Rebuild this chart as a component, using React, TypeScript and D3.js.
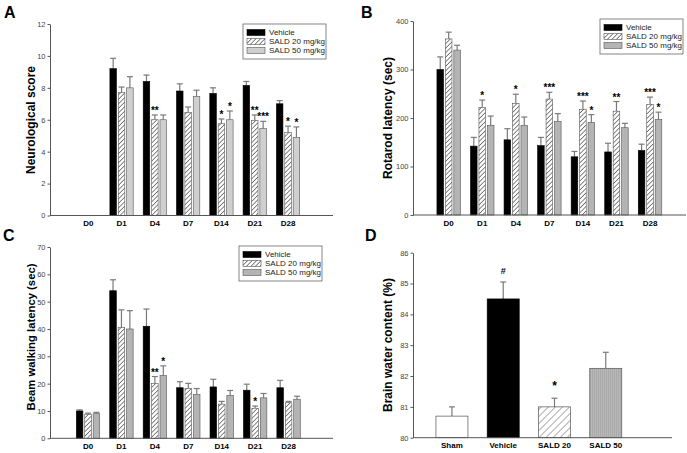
import React, { useEffect, useRef } from 'react';
import { select, scaleBand, scaleLinear, axisLeft, range, format } from 'd3';

// shared categories
const days = ['D0', 'D1', 'D4', 'D7', 'D14', 'D21', 'D28'];
const groups = ['Vehicle', 'SALD 20 mg/kg', 'SALD 50 mg/kg'];

// A - neurological score (mean, sem)
const neuroVehicle = [null, 9.2, 8.4, 7.8, 7.65, 8.15, 7.0];
const neuroVehicleErr = [0, 0.65, 0.4, 0.45, 0.35, 0.25, 0.2];
const neuroSald20 = [null, 7.7, 6.0, 6.45, 5.75, 5.95, 5.2];
const neuroSald20Err = [0, 0.35, 0.3, 0.35, 0.3, 0.35, 0.4];
const neuroSald50 = [null, 8.0, 6.0, 7.45, 6.0, 5.45, 4.9];
const neuroSald50Err = [0, 0.7, 0.3, 0.4, 0.55, 0.45, 0.65];
const neuroSig = [
  ['', '', '', '', '', '', ''],
  ['', '', '**', '', '*', '**', '*'],
  ['', '', '', '', '*', '***', '*'],
];

// B - rotarod latency
const rotaVehicle = [300, 142, 155, 143, 120, 130, 133];
const rotaVehicleErr = [26, 18, 23, 17, 11, 18, 13];
const rotaSald20 = [363, 222, 230, 239, 218, 214, 228];
const rotaSald20Err = [14, 15, 19, 14, 17, 20, 15];
const rotaSald50 = [340, 185, 185, 193, 191, 180, 197];
const rotaSald50Err = [10, 19, 17, 16, 16, 9, 15];
const rotaSig = [
  ['', '', '', '', '', '', ''],
  ['', '*', '*', '***', '***', '**', '***'],
  ['', '', '', '', '*', '', '*'],
];

// C - beam walking latency
const beamVehicle = [10, 54, 41, 18.5, 18.8, 17.6, 18.5];
const beamVehicleErr = [0.4, 4, 6.3, 2.2, 2.8, 2.2, 2.7];
const beamSald20 = [8.8, 40.5, 20, 18.3, 12.5, 11, 13];
const beamSald20Err = [0.4, 6.5, 2.6, 1.8, 1.0, 0.8, 0.5];
const beamSald50 = [9, 40, 23, 16, 15.7, 14.8, 14.3];
const beamSald50Err = [0.5, 6.7, 3.5, 2.2, 1.8, 1.6, 1.1];
const beamSig = [
  ['', '', '', '', '', '', ''],
  ['', '', '**', '', '', '*', ''],
  ['', '', '*', '', '', '', ''],
];

// D - brain water content
const waterGroups = ['Sham', 'Vehicle', 'SALD 20', 'SALD 50'];
const waterValues = [80.7, 84.5, 81.0, 82.25];
const waterErr = [0.3, 0.55, 0.28, 0.52];
const waterSig = ['', '#', '*', ''];

const FONT = 'Arial, "Liberation Sans", sans-serif';
const fills = ['#000', 'url(#hatch)', '#cfcfcf'];
const fillsB = ['#000', 'url(#hatch)', '#b4b4b4'];

const panels = [
  {
    letter: 'A', title: 'Neurological score', titleSize: 12, lx: 4, ly: 18, titleX: 31, titleY: 120,
    x0: 50, x1: 333, bandL: 71.6, bandR: 304.7, yBot: 215.5, yTop: 24, dom: [0, 12], ticks: range(0, 13, 2),
    series: [[neuroVehicle, neuroVehicleErr], [neuroSald20, neuroSald20Err], [neuroSald50, neuroSald50Err]],
    sig: neuroSig, fills, legend: [243, 24], labY: 226,
  },
  {
    letter: 'B', title: 'Rotarod latency (sec)', titleSize: 12, lx: 361, ly: 18, titleX: 388, titleY: 118,
    x0: 413, x1: 686, bandL: 431.9, bandR: 666.8, yBot: 215, yTop: 21, dom: [0, 400], ticks: range(0, 401, 100),
    series: [[rotaVehicle, rotaVehicleErr], [rotaSald20, rotaSald20Err], [rotaSald50, rotaSald50Err]],
    sig: rotaSig, fills: fillsB, legend: [600, 19], labY: 226,
  },
  {
    letter: 'C', title: 'Beam walking latency (sec)', titleSize: 11.3, lx: 3, ly: 241, titleX: 31, titleY: 337,
    x0: 50, x1: 333, bandL: 71.3, bandR: 305.3, yBot: 438.3, yTop: 247, dom: [0, 70], ticks: range(0, 71, 10),
    series: [[beamVehicle, beamVehicleErr], [beamSald20, beamSald20Err], [beamSald50, beamSald50Err]],
    sig: beamSig, fills: fillsB, legend: [239, 246], labY: 449,
  },
];

function App() {
  const svgRef = useRef<SVGSVGElement>(null);

  useEffect(() => {
    const svg = select(svgRef.current);
    svg.selectAll('*').remove();

    const defs = svg.append('defs');
    const hatch = defs.append('pattern').attr('id', 'hatch').attr('patternUnits', 'userSpaceOnUse')
      .attr('width', 3.2).attr('height', 3.2).attr('patternTransform', 'rotate(45)');
    hatch.append('rect').attr('width', 3.2).attr('height', 3.2).attr('fill', '#fff');
    hatch.append('line').attr('x1', 0).attr('y1', 0).attr('x2', 0).attr('y2', 3.2)
      .attr('stroke', '#222').attr('stroke-width', 1.1);
    const hatchD = defs.append('pattern').attr('id', 'hatchD').attr('patternUnits', 'userSpaceOnUse')
      .attr('width', 5).attr('height', 5).attr('patternTransform', 'rotate(45)');
    hatchD.append('rect').attr('width', 5).attr('height', 5).attr('fill', '#fff');
    hatchD.append('line').attr('x1', 0).attr('y1', 0).attr('x2', 0).attr('y2', 5)
      .attr('stroke', '#444').attr('stroke-width', 0.9);
    const vert = defs.append('pattern').attr('id', 'vert').attr('patternUnits', 'userSpaceOnUse')
      .attr('width', 2).attr('height', 4);
    vert.append('rect').attr('width', 2).attr('height', 4).attr('fill', '#b8b8b8');
    vert.append('line').attr('x1', 0.5).attr('y1', 0).attr('x2', 0.5).attr('y2', 4)
      .attr('stroke', '#a4a4a4').attr('stroke-width', 0.7);

    const drawAxisY = (g, y, x0, ticks) => {
      const ax = g.append('g').attr('transform', `translate(${x0},0)`)
        .call(axisLeft(y).tickValues(ticks).tickFormat(format('d')).tickSize(2.5).tickSizeOuter(0).tickPadding(2));
      ax.select('.domain').attr('stroke', '#555');
      ax.selectAll('line').attr('stroke', '#555');
      ax.selectAll('text').attr('font-size', 7.5).attr('fill', '#444').attr('font-family', FONT);
    };

    const errBar = (g, cx, yTop, yVal) => {
      g.append('line').attr('x1', cx).attr('x2', cx).attr('y1', yVal).attr('y2', yTop)
        .attr('stroke', '#7a7a7a').attr('stroke-width', 1.2);
      g.append('line').attr('x1', cx - 3).attr('x2', cx + 3).attr('y1', yTop).attr('y2', yTop)
        .attr('stroke', '#7a7a7a').attr('stroke-width', 1.2);
    };

    panels.forEach(p => {
      const g = svg.append('g');
      const x = scaleBand().domain(days).range([p.bandL, p.bandR]).paddingInner(0.3).paddingOuter(0.15);
      const xs = scaleBand().domain(range(3).map(String)).range([0, x.bandwidth()]).paddingInner(0.22);
      const y = scaleLinear().domain(p.dom).range([p.yBot, p.yTop]);

      g.append('text').attr('x', p.lx).attr('y', p.ly).text(p.letter)
        .attr('font-family', FONT).attr('font-weight', 'bold').attr('font-size', 16);
      g.append('text').attr('transform', `translate(${p.titleX},${p.titleY}) rotate(-90)`)
        .attr('text-anchor', 'middle').attr('dominant-baseline', 'central').text(p.title)
        .attr('font-family', FONT).attr('font-weight', 'bold').attr('font-size', p.titleSize);

      p.series.forEach(([vals, errs], si) => {
        days.forEach((d, i) => {
          const v = vals[i];
          if (v == null) return;
          const bx = x(d) + xs(String(si));
          const bw = xs.bandwidth();
          const top = y(v + errs[i]);
          errBar(g, bx + bw / 2, top, y(v));
          g.append('rect').attr('x', bx).attr('y', y(v)).attr('width', bw).attr('height', y(p.dom[0]) - y(v))
            .attr('fill', p.fills[si]).attr('stroke', si === 0 ? '#000' : '#555').attr('stroke-width', 0.6);
          const s = p.sig[si][i];
          if (s) {
            g.append('text').attr('x', bx + bw / 2).attr('y', top - 1).attr('text-anchor', 'middle').text(s)
              .attr('font-family', FONT).attr('font-weight', 'bold').attr('font-size', 10);
          }
        });
      });

      drawAxisY(g, y, p.x0, p.ticks);
      g.append('line').attr('x1', p.x0).attr('x2', p.x1).attr('y1', p.yBot).attr('y2', p.yBot)
        .attr('stroke', '#555');
      g.selectAll('.cat').data(days).join('text').attr('class', 'cat')
        .attr('x', d => x(d) + x.bandwidth() / 2).attr('y', p.labY).attr('text-anchor', 'middle').text(d => d)
        .attr('font-family', FONT).attr('font-weight', 'bold').attr('font-size', 8).attr('fill', '#000');

      // legend
      const [lx, ly] = p.legend;
      const lg = g.append('g').attr('transform', `translate(${lx},${ly})`);
      lg.append('rect').attr('width', 83).attr('height', 35).attr('fill', '#fff').attr('stroke', '#666').attr('stroke-width', 0.8);
      groups.forEach((name, k) => {
        const ry = 8.5 + k * 9;
        lg.append('rect').attr('x', 4).attr('y', ry - 3).attr('width', 18).attr('height', 6)
          .attr('fill', p.fills[k]).attr('stroke', k === 0 ? '#000' : '#555').attr('stroke-width', 0.6);
        lg.append('text').attr('x', 26).attr('y', ry).attr('dominant-baseline', 'central').text(name)
          .attr('font-family', FONT).attr('font-size', 8).attr('fill', '#222');
      });
    });

    // panel D
    const g = svg.append('g');
    const x = scaleBand().domain(waterGroups).range([426.3, 631.4]).paddingInner(0.376).paddingOuter(0.188);
    const y = scaleLinear().domain([80, 86]).range([437.7, 252.7]);
    const dFills = ['#fff', '#000', 'url(#hatchD)', 'url(#vert)'];
    g.append('text').attr('x', 365).attr('y', 241).text('D')
      .attr('font-family', FONT).attr('font-weight', 'bold').attr('font-size', 16);
    g.append('text').attr('transform', 'translate(388,345) rotate(-90)')
      .attr('text-anchor', 'middle').attr('dominant-baseline', 'central').text('Brain water content (%)')
      .attr('font-family', FONT).attr('font-weight', 'bold').attr('font-size', 12);
    waterGroups.forEach((name, i) => {
      const bx = x(name);
      const bw = x.bandwidth();
      const v = waterValues[i];
      const top = y(v + waterErr[i]);
      errBar(g, bx + bw / 2, top, y(v));
      g.append('rect').attr('x', bx).attr('y', y(v)).attr('width', bw).attr('height', y(80) - y(v))
        .attr('fill', dFills[i]).attr('stroke', i === 1 ? '#000' : '#555').attr('stroke-width', 0.7);
      if (waterSig[i]) {
        g.append('text').attr('x', bx + bw / 2).attr('y', top - 8).attr('text-anchor', 'middle').text(waterSig[i])
          .attr('font-family', FONT).attr('font-weight', 'bold').attr('font-size', waterSig[i] === '*' ? 12 : 9);
      }
    });
    drawAxisY(g, y, 413, range(80, 87, 1));
    g.append('line').attr('x1', 413).attr('x2', 672).attr('y1', 437.7).attr('y2', 437.7).attr('stroke', '#555');
    g.selectAll('.cat').data(waterGroups).join('text').attr('class', 'cat')
      .attr('x', d => x(d) + x.bandwidth() / 2).attr('y', 448).attr('text-anchor', 'middle').text(d => d)
      .attr('font-family', FONT).attr('font-weight', 'bold').attr('font-size', 8).attr('fill', '#000');
  }, []);

  return (
    <svg ref={svgRef} width={687} height={453}
      style={{ position: 'absolute', left: 0, top: 0, background: '#fff' }} />
  );
}

export default App;
